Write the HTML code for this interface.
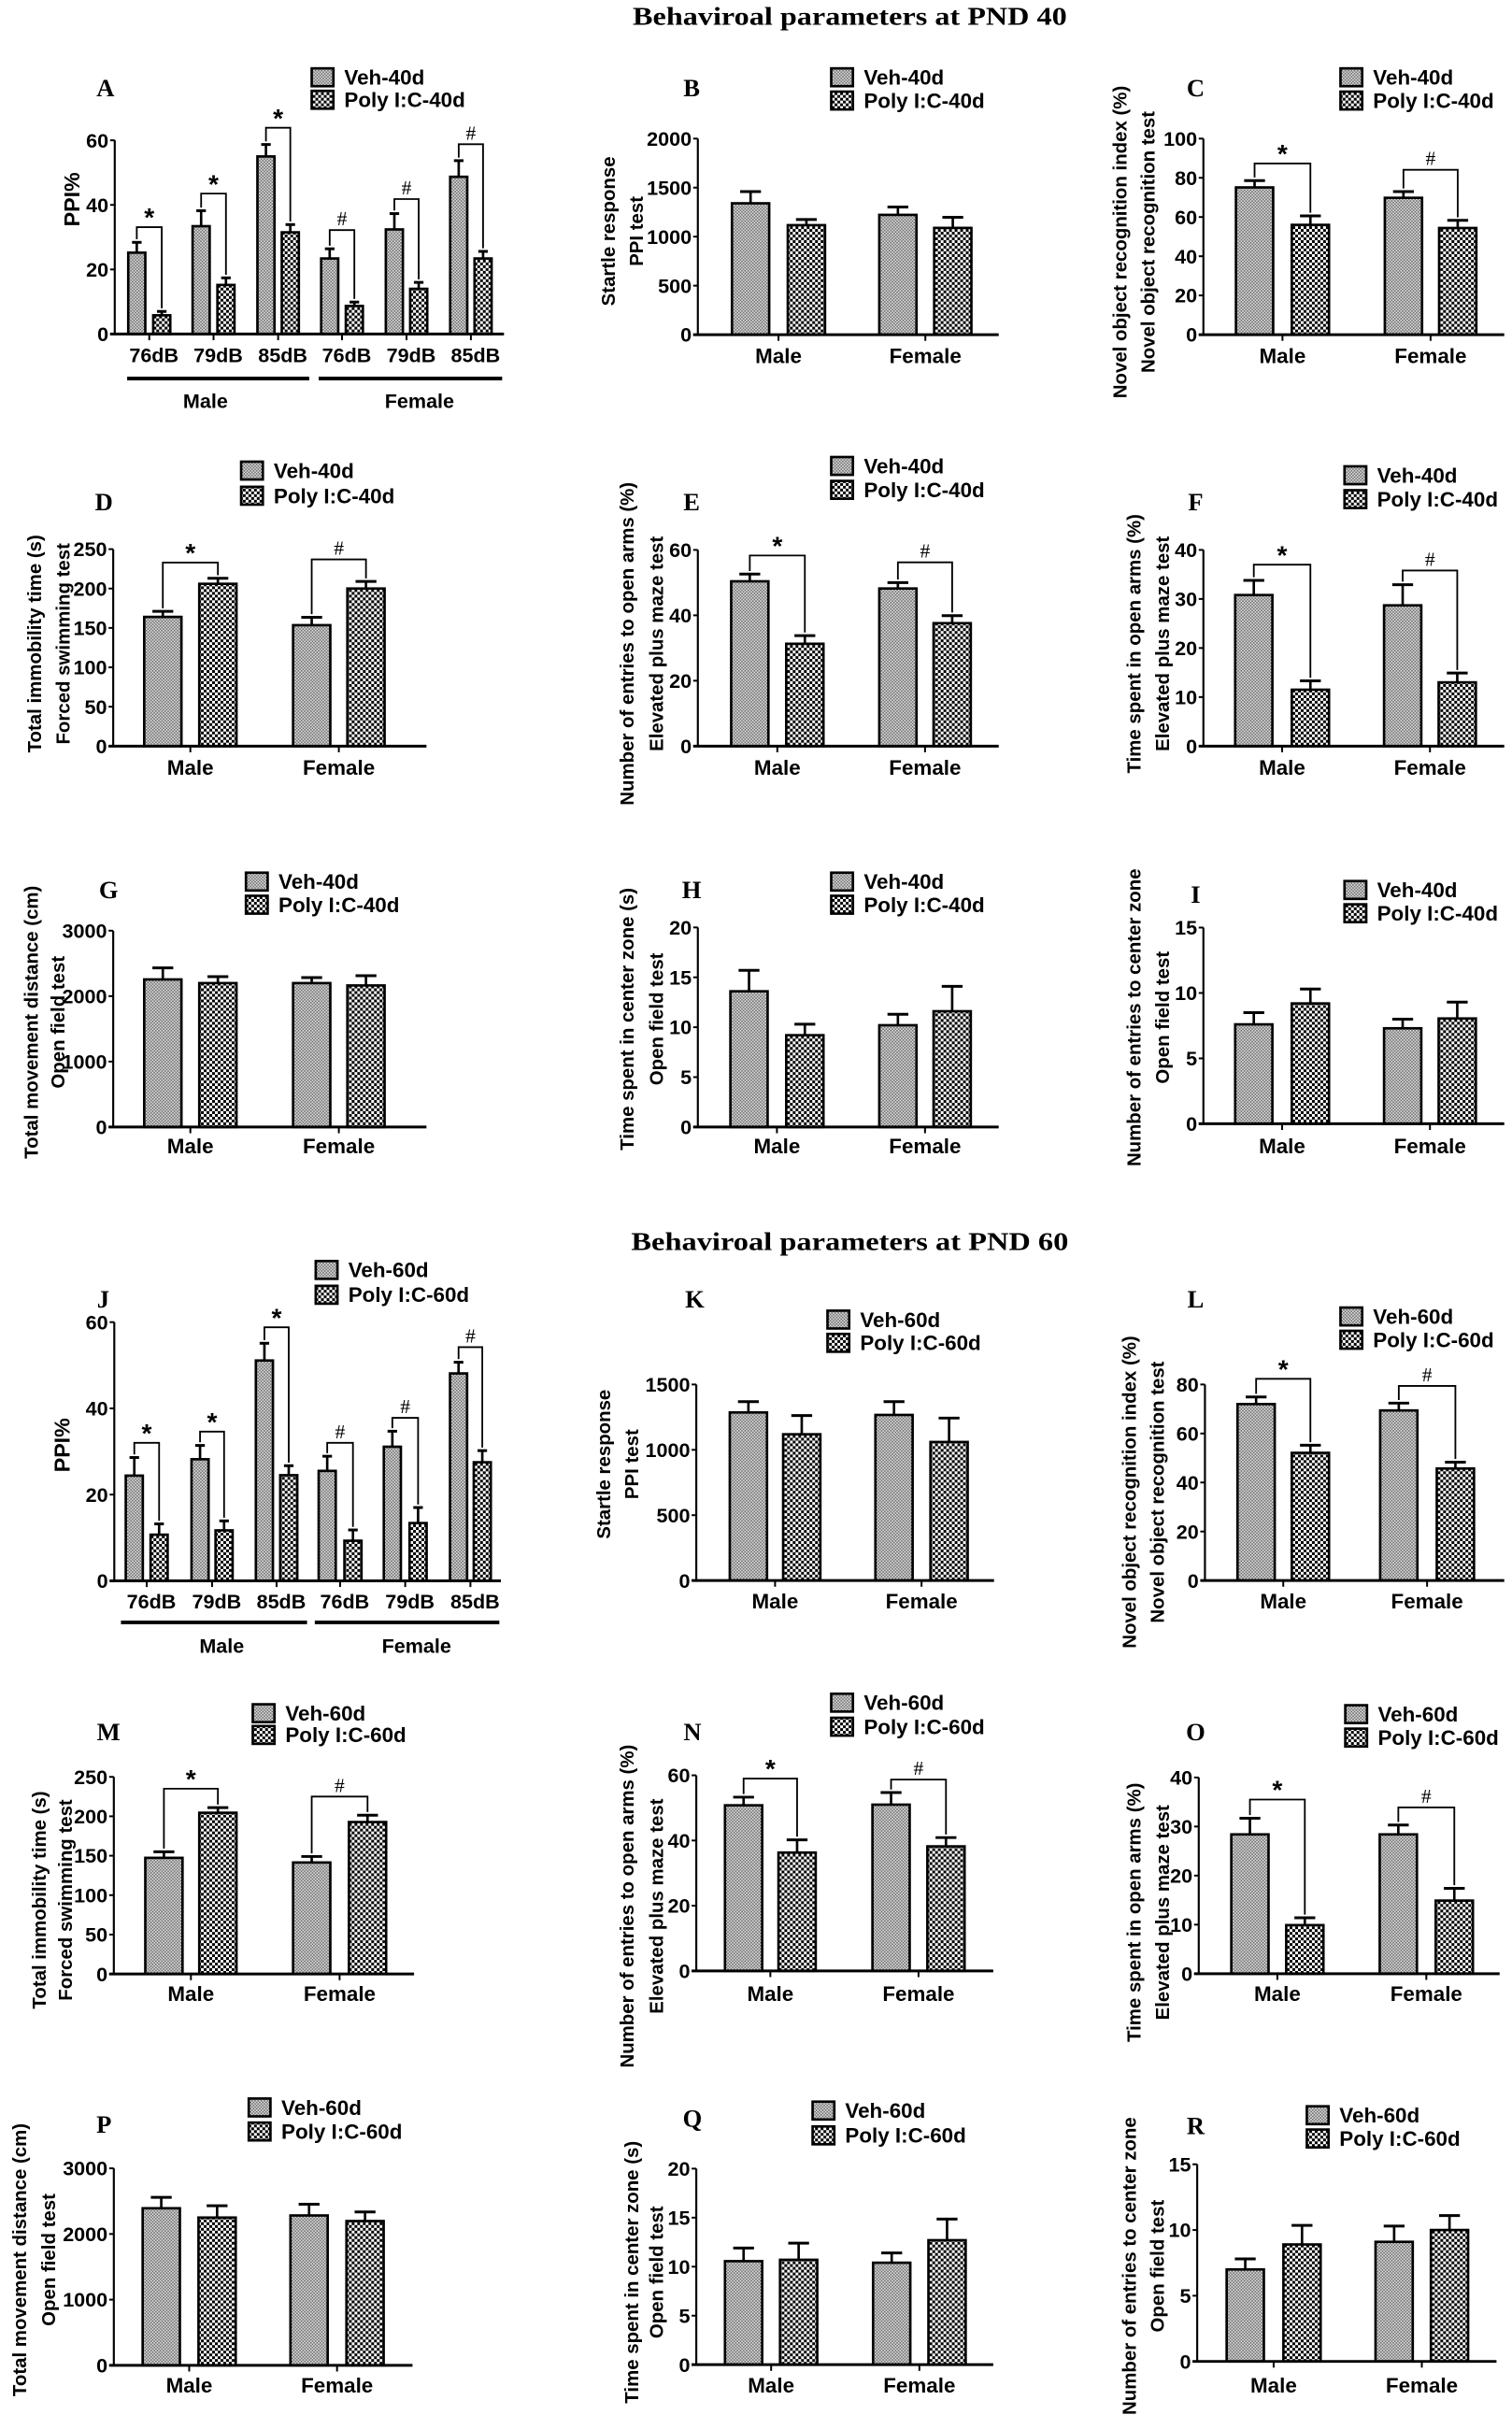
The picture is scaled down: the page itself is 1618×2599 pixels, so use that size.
<!DOCTYPE html>
<html><head><meta charset="utf-8"><title>Behavioral parameters</title>
<style>html,body{margin:0;padding:0;background:#fff;}svg{display:block;}</style></head>
<body>
<svg id="fig" xmlns="http://www.w3.org/2000/svg" width="1618" height="2599" viewBox="0 0 975 1566" font-family="'Liberation Sans', Arial, sans-serif">
<defs>
<pattern id="pv" width="2" height="2" patternUnits="userSpaceOnUse"><rect width="2" height="2" fill="#e4e4e4"/><rect width="1" height="1" fill="#6a6a6a"/><rect x="1" y="1" width="1" height="1" fill="#6a6a6a"/></pattern>
<pattern id="pp" width="3.6" height="3.6" patternUnits="userSpaceOnUse"><rect width="3.6" height="3.6" fill="#fff"/><rect width="1.8" height="1.8" fill="#000"/><rect x="1.8" y="1.8" width="1.8" height="1.8" fill="#000"/></pattern>
</defs>
<text x="548" y="16" text-anchor="middle" font-family="'Liberation Serif', serif" font-weight="bold" font-size="16.5" textLength="280" lengthAdjust="spacingAndGlyphs">Behaviroal parameters at PND 40</text>
<text x="548" y="806" text-anchor="middle" font-family="'Liberation Serif', serif" font-weight="bold" font-size="16.5" textLength="282" lengthAdjust="spacingAndGlyphs">Behaviroal parameters at PND 60</text>
</svg>
<script>
// ---- data ----
const ppiCats = ['76dB','79dB','85dB','76dB','79dB','85dB'];
const sexCats = ['Male','Female'];
const aVeh=[25.2,33.4,55,23.4,32.4,48.7], aVehErr=[3.2,4.8,3.7,3,4.9,5], aPoly=[5.8,15.2,31.5,8.7,14,23.4], aPolyErr=[1.2,2.2,2.4,1.2,2,2.2], aBr=[33.1,43.5,63.9,32.2,41.8,58.8], aSig=['*','*','*','#','#','#'];
const bVeh=[1340,1222], bVehErr=[120,80], bPoly=[1117,1089], bPolyErr=[58,108];
const cVeh=[75.1,69.8], cVehErr=[3.5,3.2], cPoly=[56,54.4], cPolyErr=[4.6,3.9], cBr=[87.3,84.1];
const dVeh=[164,153.5], dVehErr=[7,10], dPoly=[206,200], dPolyErr=[7,9], dBr=[233,237];
const eVeh=[50.4,48.2], eVehErr=[2.2,1.8], ePoly=[31.3,37.6], ePolyErr=[2.5,2.3], eBr=[58.3,56.2];
const fVeh=[30.8,28.7], fVehErr=[3,4.2], fPoly=[11.5,13], fPolyErr=[1.8,1.9], fBr=[37,35.8];
const gVeh=[2255,2199], gVehErr=[177,85], gPoly=[2199,2163], gPolyErr=[99,149];
const hVeh=[13.6,10.2], hVehErr=[2.1,1.1], hPoly=[9.2,11.6], hPolyErr=[1.1,2.5];
const iVeh=[7.6,7.3], iVehErr=[0.9,0.7], iPoly=[9.2,8.05], iPolyErr=[1.1,1.25];
const jVeh=[24.4,28.2,51.1,25.5,31.1,48.1], jVehErr=[4.2,3.2,4,3.4,3.6,2.6], jPoly=[10.7,11.7,24.5,9.3,13.4,27.5], jPolyErr=[2.5,2.2,2.2,2.5,3.6,2.7], jBr=[32,34.6,58.8,32,37.8,54.2];
const kVeh=[1286,1267], kVehErr=[83,102], kPoly=[1119,1060], kPolyErr=[143,183];
const lVeh=[72,69.4], lVehErr=[2.9,3], lPoly=[52.1,45.7], lPolyErr=[3.1,2.6], lBr=[82.3,79.4];
const mVeh=[147.3,141.4], mVehErr=[7.7,7.6], mPoly=[204.5,192.7], mPolyErr=[6.5,8.7], mBr=[235,225];
const nVeh=[50.8,51], nVehErr=[2.5,3.7], nPoly=[36.3,38.2], nPolyErr=[3.9,2.7], nBr=[59,58.7];
const oVeh=[28.4,28.4], oVehErr=[3.3,1.9], oPoly=[9.9,14.9], oPolyErr=[1.5,2.5], oBr=[35.5,33.9];
const pVeh=[2392,2282], pVehErr=[166,171], pPoly=[2250,2197], pPolyErr=[180,138];
const qVeh=[10.56,10.4], qVehErr=[1.34,1], qPoly=[10.7,12.7], qPolyErr=[1.7,2.15];
const rVeh=[7.0,9.1], rVehErr=[0.8,1.2], rPoly=[8.9,10.0], rPolyErr=[1.45,1.1];
const sig2=['*','#'];

// ---- layout ----
const svg=document.getElementById('fig');
const NS='http://www.w3.org/2000/svg';
function mk(tag,attrs,parent){const e=document.createElementNS(NS,tag);for(const k in attrs)e.setAttribute(k,attrs[k]);(parent||svg).appendChild(e);return e;}

const panels=[
{L:'A',ppi:1,ax:74,end:325,y0:215.3,yT:90.4,max:60,step:20,xs:[88.2,104.3,129.7,145.7,171.5,187.2,212.6,228.5,254.3,270,295.8,311.5],veh:aVeh,ve:aVehErr,poly:aPoly,pe:aPolyErr,br:aBr,sig:aSig,leg:[201,44,58.5],tag:'40d',let:[68,62],yl:[['PPI%'],[46.6],128.5],dbY:233.5,lineY:244,lines:[[82,199.4],[205.5,323.8]],sexY:263,sexX:[132.5,270.5]},
{L:'B',ax:450,end:644,y0:215.7,yT:89.3,max:2000,step:500,xs:[484,520,579,614.4],veh:bVeh,ve:bVehErr,poly:bPoly,pe:bPolyErr,leg:[536,44,59],tag:'40d',let:[446,62],yl:[['Startle response','PPI test'],[392,410],149],sexY:234},
{L:'C',ax:776,end:970,y0:215.7,yT:89.3,max:100,step:20,xs:[809,845,905,940],veh:cVeh,ve:cVehErr,poly:cPoly,pe:cPolyErr,br:cBr,leg:[864.4,44,59],tag:'40d',let:[771,62],yl:[['Novel object recognition index (%)','Novel object recognition test'],[722,740],156],sexY:234},
{L:'D',ax:73,end:275,y0:481,yT:354,max:250,step:50,xs:[105,140.5,201,236],veh:dVeh,ve:dVehErr,poly:dPoly,pe:dPolyErr,br:dBr,leg:[155.5,297.6,313.8],tag:'40d',let:[67,329],yl:[['Total immobility time (s)','Forced swimming test'],[22,40.4],415],sexY:499.5},
{L:'E',ax:450,end:644,y0:481,yT:354.5,max:60,step:20,xs:[483.5,519,579,614],veh:eVeh,ve:eVehErr,poly:ePoly,pe:ePolyErr,br:eBr,leg:[536,294.6,310],tag:'40d',let:[446,329],yl:[['Number of entries to open arms (%)','Elevated plus maze test'],[404,423],415],sexY:499.5},
{L:'F',ax:776,end:970,y0:481,yT:354.5,max:40,step:10,xs:[808.5,845,904.5,939.7],veh:fVeh,ve:fVehErr,poly:fPoly,pe:fPolyErr,br:fBr,leg:[867,300.6,316],tag:'40d',let:[771,329],yl:[['Time spent in open arms (%)','Elevated plus maze test'],[731,749.4],415],sexY:499.5},
{L:'G',ax:73,end:275,y0:726.6,yT:600,max:3000,step:1000,xs:[105,140.5,201,236],veh:gVeh,ve:gVehErr,poly:gPoly,pe:gPolyErr,leg:[158.6,562.6,577.5],tag:'40d',let:[70,579],yl:[['Total movement distance (cm)','Open field test'],[20,37],659],sexY:743.6},
{L:'H',ax:450,end:644,y0:726.6,yT:597.9,max:20,step:5,xs:[483,519,579,614],veh:hVeh,ve:hVehErr,poly:hPoly,pe:hPolyErr,leg:[536,562.6,577.5],tag:'40d',let:[446,579],yl:[['Time spent in center zone (s)','Open field test'],[404,423],657],sexY:743.6},
{L:'I',ax:776,end:970,y0:724.5,yT:598,max:15,step:5,xs:[808.5,845,904.5,939.7],veh:iVeh,ve:iVehErr,poly:iPoly,pe:iPolyErr,leg:[867,568,583],tag:'40d',let:[771,582],yl:[['Number of entries to center zone','Open field test'],[731,749.4],656],sexY:743.6},
{L:'J',ppi:1,ax:73.7,end:323,y0:1019.2,yT:852.4,max:60,step:20,xs:[86.6,102.6,129,144.5,170.5,186.2,211,227.6,253,269.6,295.7,311],veh:jVeh,ve:jVehErr,poly:jPoly,pe:jPolyErr,br:jBr,sig:aSig,leg:[203.6,813,829],tag:'60d',let:[66.5,843],yl:[['PPI%'],[40.5],931.7],dbY:1037,lineY:1046,lines:[[78,198],[203,322]],sexY:1065.5,sexX:[143,268.6]},
{L:'K',ax:449,end:641,y0:1019,yT:892.6,max:1500,step:500,xs:[482.6,517,576.5,612],veh:kVeh,ve:kVehErr,poly:kPoly,pe:kPolyErr,leg:[533.6,845,860],tag:'60d',let:[448,843],yl:[['Startle response','PPI test'],[389,407],944],sexY:1037},
{L:'L',ax:777,end:970,y0:1019,yT:892.6,max:80,step:20,xs:[810,845,902,938.5],veh:lVeh,ve:lVehErr,poly:lPoly,pe:lPolyErr,br:lBr,leg:[864.4,843,858],tag:'60d',let:[771,843],yl:[['Novel object recognition index (%)','Novel object recognition test'],[728,746],962],sexY:1037},
{L:'M',ax:73.4,end:267,y0:1272.7,yT:1145.6,max:250,step:50,xs:[105.7,140.5,201,237],veh:mVeh,ve:mVehErr,poly:mPoly,pe:mPolyErr,br:mBr,leg:[163,1098.8,1112.8],tag:'60d',let:[70,1122],yl:[['Total immobility time (s)','Forced swimming test'],[25,42],1225],sexY:1290},
{L:'N',ax:449,end:640.5,y0:1270.7,yT:1144.6,max:60,step:20,xs:[479.5,514,574.6,610],veh:nVeh,ve:nVehErr,poly:nPoly,pe:nPolyErr,br:nBr,leg:[536,1092,1107.5],tag:'60d',let:[446.5,1122],yl:[['Number of entries to open arms (%)','Elevated plus maze test'],[404,423],1229],sexY:1290},
{L:'O',ax:773,end:967,y0:1272.5,yT:1146,max:40,step:10,xs:[806,841.4,901.7,937.8],veh:oVeh,ve:oVehErr,poly:oPoly,pe:oPolyErr,br:oBr,leg:[867.5,1099.4,1114.5],tag:'60d',let:[771,1122],yl:[['Time spent in open arms (%)','Elevated plus maze test'],[731,749.4],1233],sexY:1290},
{L:'P',ax:73.4,end:266,y0:1525,yT:1398,max:3000,step:1000,xs:[104,140,199.3,235.4],veh:pVeh,ve:pVehErr,poly:pPoly,pe:pPolyErr,leg:[160.4,1353,1368.5],tag:'60d',let:[67,1375],yl:[['Total movement distance (cm)','Open field test'],[12.4,31],1457],sexY:1542.5},
{L:'Q',ax:449,end:640.5,y0:1524.6,yT:1398.2,max:20,step:5,xs:[479.5,515,575,610.7],veh:qVeh,ve:qVehErr,poly:qPoly,pe:qPolyErr,leg:[524,1355,1371],tag:'60d',let:[446.5,1371],yl:[['Time spent in center zone (s)','Open field test'],[407,423],1465],sexY:1542.5},
{L:'R',ax:772,end:965,y0:1522.5,yT:1395.4,max:15,step:5,xs:[803,839.6,899,934.7],veh:rVeh,ve:rVehErr,poly:rPoly,pe:rPolyErr,leg:[842.7,1358,1373],tag:'60d',let:[771,1376],yl:[['Number of entries to center zone','Open field test'],[728,746],1461],sexY:1542.5}
];

panels.forEach(P=>{
  const g=mk('g',{});
  
  
  const Y=v=>P.y0-(v/P.max)*(P.y0-P.yT);
  const bw=P.ppi?11:24;
  const lt=mk('text',{x:P.let[0],y:P.let[1],'text-anchor':'middle','font-family':"'Liberation Serif', serif",'font-weight':'bold','font-size':16},g);
  
  
  lt.textContent=P.L;
  P.yl[0].forEach((s,i)=>{
    const t=mk('text',{x:0,y:0,transform:`translate(${P.yl[1][i]+4.5},${P.yl[2]}) rotate(-90)`,'text-anchor':'middle','font-weight':'bold','font-size':P.ppi?14:12.3},g);
    
    
    t.textContent=s;
  });
  const n=P.veh.length;
  for(let i=0;i<n;i++){
    [[P.veh,P.ve,'url(#pv)',P.xs[2*i],'veh'],[P.poly,P.pe,'url(#pp)',P.xs[2*i+1],'poly']].forEach(([vals,errs,fill,cx,nm])=>{
      const yv=Y(vals[i]), ye=Y(vals[i]+errs[i]);
      const eb=mk('line',{x1:cx,x2:cx,y1:yv,y2:ye,stroke:'#000','stroke-width':1.6},g);
      
      
      const cap=mk('line',{x1:cx-bw*0.28,x2:cx+bw*0.28,y1:ye,y2:ye,stroke:'#000','stroke-width':1.8},g);
      
      
      const r=mk('rect',{x:cx-bw/2,y:yv,width:bw,height:P.y0-yv,fill:fill,stroke:'#000','stroke-width':1.6},g);
      
      
    });
    if(P.br){
      const xv=P.xs[2*i], xp=P.xs[2*i+1], yb=Y(P.br[i]);
      const y1=Y(P.veh[i]+P.ve[i])-2, y2=Y(P.poly[i]+P.pe[i])-2;
      const pl=mk('polyline',{points:`${xv},${y1} ${xv},${yb} ${xp},${yb} ${xp},${y2}`,fill:'none',stroke:'#000','stroke-width':1.1},g);
      
      
      const s=(P.sig||sig2)[i];
      const st=mk('text',{x:(xv+xp)/2,y:s==='*'?yb-0.5:yb-3,'text-anchor':'middle','font-weight':s==='*'?'bold':'normal','font-size':s==='*'?17:13,'font-family':s==='*'?"'Liberation Sans', sans-serif":"'Liberation Serif', serif"},g);
      
      
      st.textContent=s;
    }
  }
  const ya=mk('line',{x1:P.ax,x2:P.ax,y1:P.yT,y2:P.y0,stroke:'#000','stroke-width':1.3},g);
  
  
  const xa=mk('line',{x1:P.ax-3,x2:P.end,y1:P.y0,y2:P.y0,stroke:'#000','stroke-width':1.8},g);
  
  
  for(let v=0;v<=P.max+1e-9;v+=P.step){
    const tk=mk('line',{x1:P.ax-3,x2:P.ax,y1:Y(v),y2:Y(v),stroke:'#000','stroke-width':1.2},g);
    
    
    const tl=mk('text',{x:P.ax-4,y:Y(v)+4.6,'text-anchor':'end','font-weight':'bold','font-size':13},g);
    
    
    tl.textContent=String(v);
  }
  if(P.ppi){
    for(let i=0;i<6;i++){
      const cx=(P.xs[2*i]+P.xs[2*i+1])/2;
      const tk=mk('line',{x1:cx,x2:cx,y1:P.y0,y2:P.y0+4,stroke:'#000','stroke-width':1.2},g);
      
      
      const tl=mk('text',{x:cx+3,y:P.dbY,'text-anchor':'middle','font-weight':'bold','font-size':13},g);
      
      
      tl.textContent=ppiCats[i];
    }
    P.lines.forEach((ln,k)=>{
      const l=mk('line',{x1:ln[0],x2:ln[1],y1:P.lineY,y2:P.lineY,stroke:'#000','stroke-width':2.4},g);
      
      
      const t=mk('text',{x:P.sexX[k],y:P.sexY,'text-anchor':'middle','font-weight':'bold','font-size':13},g);
      
      
      t.textContent=sexCats[k];
    });
  } else {
    for(let k=0;k<2;k++){
      const cx=(P.xs[2*k]+P.xs[2*k+1])/2;
      const tk=mk('line',{x1:cx,x2:cx,y1:P.y0,y2:P.y0+4,stroke:'#000','stroke-width':1.2},g);
      
      
      const t=mk('text',{x:cx,y:P.sexY,'text-anchor':'middle','font-weight':'bold','font-size':13.5},g);
      
      
      t.textContent=sexCats[k];
    }
  }
  [['url(#pv)','Veh-'+P.tag,P.leg[1]],['url(#pp)','Poly I:C-'+P.tag,P.leg[2]]].forEach(([f,s,yy])=>{
    const b=mk('rect',{x:P.leg[0],y:yy,width:14,height:11.5,fill:f,stroke:'#000','stroke-width':1.6},g);
    
    
    const t=mk('text',{x:P.leg[0]+21,y:yy+10.5,'font-weight':'bold','font-size':13.5},g);
    
    
    t.textContent=s;
  });
});
</script>
</body></html>
